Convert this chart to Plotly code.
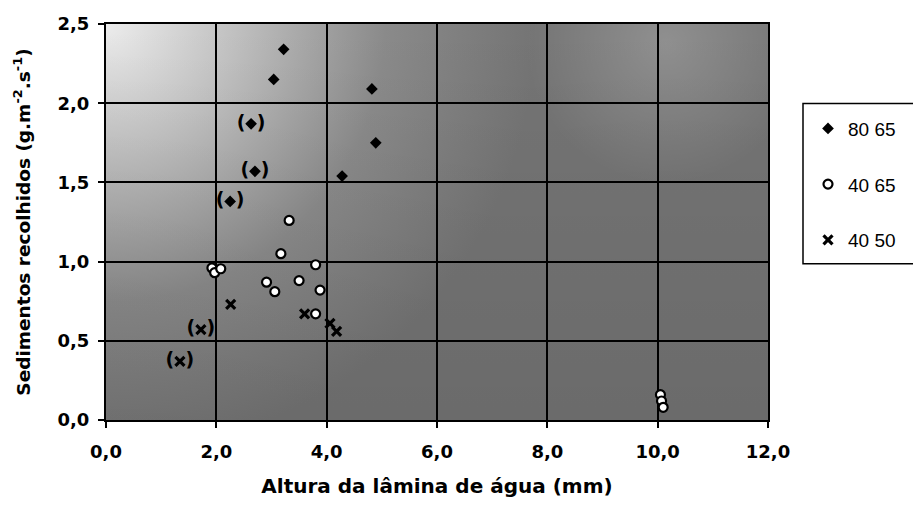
import base64
import plotly.graph_objects as go

# Series: water depth (mm) vs. collected sediment (g.m-2.s-1)
x_80_65 = [3.22, 3.04, 4.82, 4.89, 4.28, 2.63, 2.70, 2.25]
y_80_65 = [2.34, 2.15, 2.09, 1.75, 1.54, 1.87, 1.57, 1.38]

x_40_65 = [3.32, 3.17, 3.80, 3.50, 2.91, 3.06, 3.88, 3.80, 1.92, 1.97, 2.08, 10.05, 10.07, 10.10]
y_40_65 = [1.26, 1.05, 0.98, 0.88, 0.87, 0.81, 0.82, 0.67, 0.96, 0.93, 0.955, 0.16, 0.12, 0.08]

x_40_50 = [2.26, 3.60, 4.06, 4.18, 1.72, 1.34]
y_40_50 = [0.73, 0.67, 0.61, 0.56, 0.57, 0.37]

# points shown in parentheses
x_paren = [2.63, 2.70, 2.25, 1.72, 1.34]
y_paren = [1.87, 1.57, 1.38, 0.57, 0.37]

x_ticks = [0, 2, 4, 6, 8, 10, 12]
x_ticktext = ["0,0", "2,0", "4,0", "6,0", "8,0", "10,0", "12,0"]
y_ticks = [0, 0.5, 1.0, 1.5, 2.0, 2.5]
y_ticktext = ["0,0", "0,5", "1,0", "1,5", "2,0", "2,5"]

FONT = "Liberation Sans, Arial, sans-serif"
BOLD = "DejaVu Sans, Liberation Sans, sans-serif"

# shaded plot background
svg = """<svg xmlns='http://www.w3.org/2000/svg' width='662' height='398' viewBox='0 0 662 398' preserveAspectRatio='none'>
<defs>
<radialGradient id='g1' cx='0' cy='0' r='430' gradientUnits='userSpaceOnUse'>
<stop offset='0' stop-color='#ececec'/>
<stop offset='0.3' stop-color='#c0c0c0'/>
<stop offset='0.65' stop-color='#8a8a8a'/>
<stop offset='1' stop-color='#747474'/>
</radialGradient>
<radialGradient id='g2' cx='560' cy='20' r='140' gradientUnits='userSpaceOnUse'>
<stop offset='0' stop-color='#ffffff' stop-opacity='0.2'/>
<stop offset='1' stop-color='#ffffff' stop-opacity='0'/>
</radialGradient>
<linearGradient id='g3' x1='0' y1='0' x2='0' y2='1'>
<stop offset='0' stop-color='#000000' stop-opacity='0'/>
<stop offset='1' stop-color='#000000' stop-opacity='0.08'/>
</linearGradient>
</defs>
<rect width='662' height='398' fill='url(#g1)'/>
<rect width='662' height='398' fill='url(#g2)'/>
<rect width='662' height='398' fill='url(#g3)'/>
</svg>"""
bg_src = "data:image/svg+xml;base64," + base64.b64encode(svg.encode()).decode()

fig = go.Figure()

fig.add_trace(go.Scatter(
    x=x_80_65, y=y_80_65, mode="markers", name="80 65", legendgroup="a",
    marker=dict(symbol="diamond", size=9, color="black"),
))
fig.add_trace(go.Scatter(
    x=x_40_65, y=y_40_65, mode="markers", name="40 65", legendgroup="b",
    marker=dict(symbol="circle", size=9, color="white", line=dict(color="black", width=2.2)),
))
fig.add_trace(go.Scatter(
    x=x_40_50, y=y_40_50, mode="markers", name="40 50", legendgroup="c",
    marker=dict(symbol="x-thin", size=9, color="black", line=dict(color="black", width=3.2)),
))
fig.add_trace(go.Scatter(
    x=x_paren, y=y_paren, mode="text", showlegend=False, hoverinfo="skip",
    text=["<b>(\u2009\u2009\u2009)</b>"] * len(x_paren),
    textfont=dict(family=BOLD, size=19, color="black"),
))

# legend frame
fig.add_shape(type="rect", xref="paper", yref="paper",
              x0=(803 - 106) / 662, x1=(925 - 106) / 662,
              y0=(422 - 265) / 398, y1=(422 - 104) / 398,
              fillcolor="white", line=dict(color="black", width=1.5))

fig.update_layout(
    width=913, height=506,
    margin=dict(l=106, r=145, t=24, b=84),
    paper_bgcolor="white", plot_bgcolor="#999999",
    font=dict(family=FONT, color="black"),
    images=[dict(source=bg_src, xref="paper", yref="paper", x=0, y=1,
                 sizex=1, sizey=1, sizing="stretch", layer="below")],
    showlegend=True,
    legend=dict(x=(808 - 106) / 662, y=(422 - 110) / 398, xanchor="left", yanchor="top",
                bgcolor="rgba(0,0,0,0)", borderwidth=0,
                font=dict(family=FONT, size=19, color="black"),
                tracegroupgap=28, itemwidth=30),
)

fig.update_xaxes(
    range=[0, 12], tickvals=x_ticks, ticktext=["<b>%s</b>" % t for t in x_ticktext],
    showgrid=True, gridcolor="black", gridwidth=2,
    showline=True, linecolor="black", linewidth=2, mirror=True,
    ticks="outside", ticklen=6, tickcolor="black", tickwidth=1.5,
    tickfont=dict(family=BOLD, size=18, color="black"),
    ticklabelstandoff=8,
    zeroline=False,
    title=dict(text="<b>Altura da lâmina de água (mm)</b>", font=dict(family=BOLD, size=20), standoff=18),
)
fig.update_yaxes(
    range=[0, 2.5], tickvals=y_ticks, ticktext=["<b>%s</b>" % t for t in y_ticktext],
    showgrid=True, gridcolor="black", gridwidth=2,
    showline=True, linecolor="black", linewidth=2, mirror=True,
    ticks="outside", ticklen=6, tickcolor="black", tickwidth=1.5,
    tickfont=dict(family=BOLD, size=18, color="black"),
    ticklabelstandoff=5,
    zeroline=False,
    title=dict(text="<b>Sedimentos recolhidos (g.m<sup>-2</sup>.s<sup>-1</sup>)</b>",
               font=dict(family=BOLD, size=18.5), standoff=22),
)

fig.write_html("out.html")
